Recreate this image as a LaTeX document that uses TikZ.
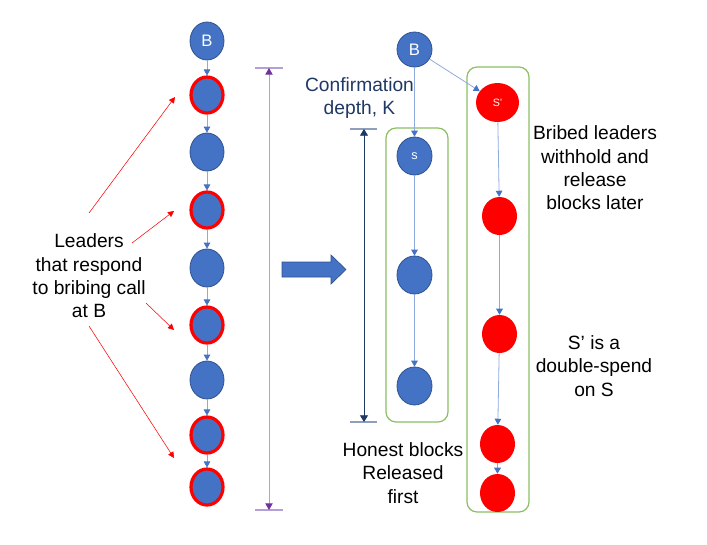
\documentclass[tikz,border=0pt]{standalone}
\usepackage{fontspec}
\setmainfont{Liberation Sans}
\usetikzlibrary{shapes.geometric,arrows.meta}
\definecolor{blueF}{RGB}{68,114,196}
\definecolor{blueD}{RGB}{47,82,143}
\definecolor{lineB}{RGB}{143,170,220}
\definecolor{greenB}{RGB}{140,190,100}
\definecolor{purpL}{RGB}{180,160,215}
\definecolor{purpD}{RGB}{112,48,160}
\definecolor{navyT}{RGB}{31,56,100}
\definecolor{tickB}{RGB}{140,160,190}
\tikzset{
  blk/.style={ellipse,inner sep=0pt,fill=blueF,draw=blueD,line width=0.6pt,
    minimum width=25.5pt,minimum height=28.5pt,text=white,font=\fontsize{12.5}{14}\selectfont},
  bribed/.style={blk,draw=red,line width=2.4pt,minimum width=24pt,minimum height=27pt},
  redblk/.style={ellipse,inner sep=0pt,fill=red,draw=none,
    minimum width=26.25pt,minimum height=28.5pt,text=white,font=\fontsize{8}{10}\selectfont},
  chain/.style={draw=lineB,line width=0.6pt,-{Triangle[width=5pt,length=4.5pt,color=blueF]}},
  redarr/.style={draw=red,line width=0.4pt,-{Triangle[width=4.5pt,length=4.5pt,color=red]}},
  lbl/.style={align=center,font=\fontsize{14.4}{17.5}\selectfont,inner sep=0pt},
  gbox/.style={draw=greenB,line width=0.9pt,rounded corners=7.5pt},
}
\begin{document}
\begin{tikzpicture}[x=0.75pt,y=-0.75pt]
\useasboundingbox (0,0) rectangle (707,544);
% left chain
\node[blk] (L0) at (207,41) {B};
\node[bribed] (L1) at (207,95) {};
\node[blk] (L2) at (207,152) {};
\node[bribed] (L3) at (207,210) {};
\node[blk] (L4) at (207,268) {};
\node[bribed] (L5) at (207,325) {};
\node[blk] (L6) at (207,380) {};
\node[bribed] (L7) at (207,435) {};
\node[bribed] (L8) at (207,487) {};
\foreach \a/\b in {L0/L1,L1/L2,L2/L3,L3/L4,L4/L5,L5/L6,L6/L7,L7/L8}
  \draw[chain] (\a) -- (\b);
% purple measure
\coordinate (pT) at (269,68);
\coordinate (pB) at (269,510);
\coordinate (pT1) at (255,68); \coordinate (pT2) at (283,68);
\coordinate (pB1) at (255,510); \coordinate (pB2) at (283,510);
\draw[purpL,line width=0.8pt] (pT1) -- (pT2);
\draw[purpL,line width=0.8pt] (pB1) -- (pB2);
\draw[purpL,line width=0.75pt,{Triangle[width=5.5pt,length=5pt,color=purpD]}-{Triangle[width=5.5pt,length=5pt,color=purpD]}] (pT) -- (pB);
% left label and red arrows
\node[lbl] (lead) at (89,276) {Leaders\\that respond\\to bribing call\\at B};
\coordinate (a1s) at (89,213); \coordinate (a1e) at (175,97);
\coordinate (a2s) at (132,243); \coordinate (a2e) at (174,211);
\coordinate (a3s) at (146,303); \coordinate (a3e) at (174,330);
\coordinate (a4s) at (89,326); \coordinate (a4e) at (174,458);
\draw[redarr] (a1s) -- (a1e);
\draw[redarr] (a2s) -- (a2e);
\draw[redarr] (a3s) -- (a3e);
\draw[redarr] (a4s) -- (a4e);
% block arrow
\fill[blueF,draw=blueD,line width=0.5pt] (282,262) -- (331,262) -- (331,255) -- (346,269.5) -- (331,284) -- (331,277) -- (282,277) -- cycle;
% green boxes
\draw[gbox] (386,128) rectangle (448,422);
\draw[gbox] (467,67) rectangle (529,512);
% right honest chain
\node[blk,minimum width=26.25pt,minimum height=26.25pt] (R0) at (414.5,49.5) {B};
\node[blk,minimum width=26.25pt,font=\fontsize{9.5}{11}\selectfont] (R1) at (414.5,156) {s};
\node[blk,minimum width=26.25pt] (R2) at (414.5,275) {};
\node[blk,minimum width=26.25pt] (R3) at (414.5,386) {};
\draw[chain] (R0) -- (R1);
\draw[chain] (R1) -- (R2);
\draw[chain] (R2) -- (R3);
% bribed chain
\node[redblk,minimum width=32.25pt,minimum height=29.25pt] (S0) at (497.5,102.5) {S’};
\node[redblk] (S1) at (499.5,216) {};
\node[redblk] (S2) at (499.5,334) {};
\node[redblk] (S3) at (497.5,444) {};
\node[redblk] (S4) at (497.5,493) {};
\draw[chain] (R0) -- (S0);
\draw[chain] (S0) -- (S1);
\draw[chain] (S1) -- (S2);
\draw[chain] (S2) -- (S3);
\draw[chain] (S3) -- (S4);
% K measure
\coordinate (kT) at (364,129);
\coordinate (kB) at (364,422);
\coordinate (kT1) at (350,129); \coordinate (kT2) at (377,129);
\coordinate (kB1) at (350,422); \coordinate (kB2) at (377,422);
\draw[tickB,line width=0.8pt] (kT1) -- (kT2);
\draw[tickB,line width=0.8pt] (kB1) -- (kB2);
\draw[navyT,line width=0.6pt,{Triangle[width=6pt,length=5pt]}-{Triangle[width=6pt,length=5pt]}] (kT) -- (kB);
% labels
\node[lbl,text=navyT] (conf) at (359.5,98) {Confirmation\\depth, K};
\node[lbl] (brib) at (595,168) {Bribed leaders\\withhold and\\release\\blocks later};
\node[lbl] (dbl) at (594,366) {S’ is a\\double-spend\\on S};
\node[lbl] (hon) at (403,473) {Honest blocks\\Released\\first};
\end{tikzpicture}
\end{document}
